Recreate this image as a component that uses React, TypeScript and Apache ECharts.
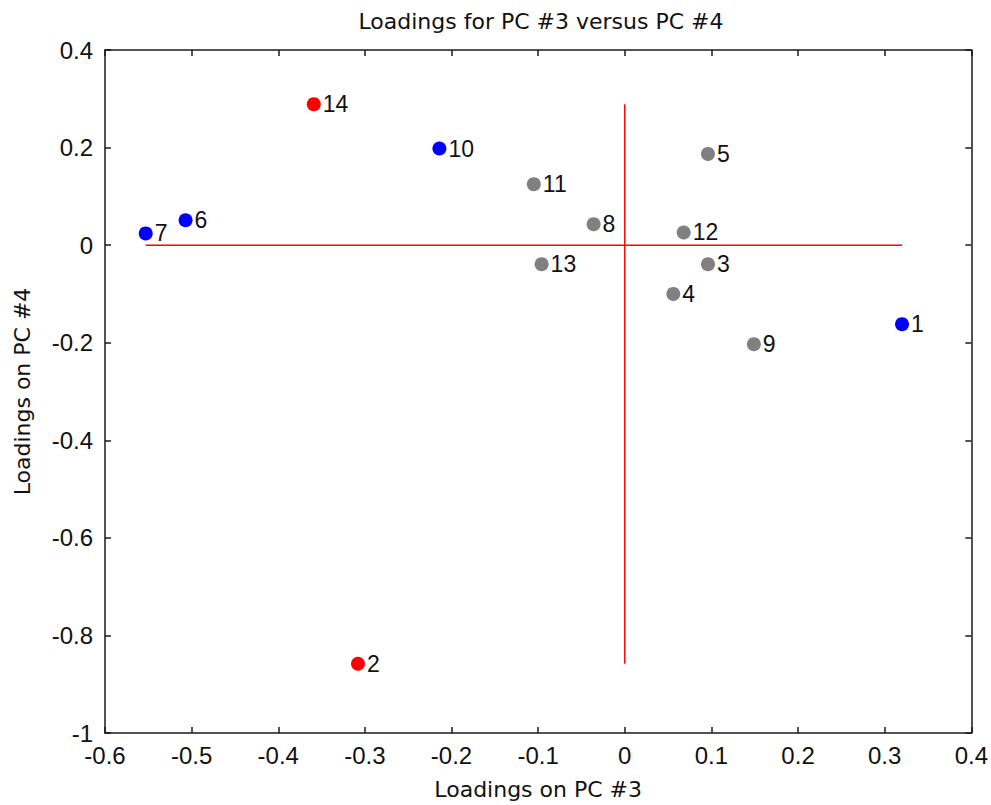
import React, { useEffect, useRef } from "react";
import * as echarts from "echarts";

const ids = ["1", "2", "3", "4", "5", "6", "7", "8", "9", "10", "11", "12", "13", "14"];
const pc3 = [0.32, -0.308, 0.096, 0.056, 0.096, -0.507, -0.553, -0.036, 0.149, -0.214, -0.105, 0.068, -0.096, -0.359];
const pc4 = [-0.162, -0.858, -0.039, -0.1, 0.187, 0.051, 0.024, 0.043, -0.203, 0.198, 0.125, 0.026, -0.039, 0.289];
const groups = ["blue", "red", "gray", "gray", "gray", "blue", "blue", "gray", "gray", "blue", "gray", "gray", "gray", "red"];
const groupColors: Record<string, string> = { blue: "#0000ff", red: "#ff0000", gray: "#808080" };
const xTicks = [-0.6, 0.4, 0.1];
const yTicks = [-1, 0.4, 0.2];

const SANS = "Liberation Sans, Arial, sans-serif";
const WIDE = "DejaVu Sans, Liberation Sans, sans-serif";

export default function App() {
  const ref = useRef<HTMLDivElement>(null);
  useEffect(() => {
    if (!ref.current) return;
    const chart = echarts.init(ref.current, null, { renderer: "svg" });
    const pts = ids.map((id, i) => ({
      value: [pc3[i], pc4[i]],
      name: id,
      itemStyle: { color: groupColors[groups[i]], opacity: 1 },
    }));
    const xMin = Math.min(...pc3), xMax = Math.max(...pc3);
    const yMin = Math.min(...pc4), yMax = Math.max(...pc4);
    const axisCommon = {
      type: "value" as const,
      axisLine: { show: true, onZero: false, lineStyle: { color: "#1a1a1a", width: 1.5 } },
      axisTick: { show: true, inside: true, length: 6, lineStyle: { color: "#1a1a1a", width: 1.5 } },
      splitLine: { show: false },
    };
    const fmt = (v: number) => String(Math.round(v * 10) / 10);
    chart.setOption({
      animation: false,
      backgroundColor: "#fff",
      title: {
        text: "Loadings for PC #3 versus PC #4",
        left: 536,
        textAlign: "center",
        top: 5,
        textStyle: { fontFamily: WIDE, fontSize: 22, fontWeight: "normal", color: "#111" },
      },
      grid: { left: 105, right: 19, top: 50, bottom: 72 },
      xAxis: [
        {
          ...axisCommon,
          min: xTicks[0], max: xTicks[1], interval: xTicks[2],
          position: "bottom",
          name: "Loadings on PC #3",
          nameLocation: "middle",
          nameGap: 45,
          nameTextStyle: { fontFamily: WIDE, fontSize: 22, color: "#111" },
          axisLabel: { fontFamily: SANS, fontSize: 24, color: "#111", margin: 10, formatter: fmt },
        },
        {
          ...axisCommon,
          min: xTicks[0], max: xTicks[1], interval: xTicks[2],
          position: "top",
          axisLabel: { show: false },
        },
      ],
      yAxis: [
        {
          ...axisCommon,
          min: yTicks[0], max: yTicks[1], interval: yTicks[2],
          position: "left",
          name: "Loadings on PC #4",
          nameLocation: "middle",
          nameGap: 72,
          nameTextStyle: { fontFamily: WIDE, fontSize: 22, color: "#111" },
          axisLabel: { fontFamily: SANS, fontSize: 24, color: "#111", margin: 12, formatter: fmt },
        },
        {
          ...axisCommon,
          min: yTicks[0], max: yTicks[1], interval: yTicks[2],
          position: "right",
          axisLabel: { show: false },
        },
      ],
      series: [
        {
          type: "line",
          data: [[xMin, 0], [xMax, 0]],
          symbol: "none",
          lineStyle: { color: "#ff0000", width: 1.5 },
          silent: true,
          z: 1,
        },
        {
          type: "line",
          data: [[0, yMax], [0, yMin]],
          symbol: "none",
          lineStyle: { color: "#ff0000", width: 1.5 },
          silent: true,
          z: 1,
        },
        {
          type: "scatter",
          data: pts,
          symbol: "circle",
          symbolSize: 14,
          z: 3,
          label: {
            show: true,
            position: "right",
            distance: 2,
            formatter: (p: any) => p.name,
            fontFamily: SANS,
            fontSize: 23,
            color: "#111",
          },
        },
      ],
    });
    return () => chart.dispose();
  }, []);
  return (
    <div
      ref={ref}
      style={{ position: "absolute", left: 0, top: 0, width: 991, height: 805 }}
    />
  );
}
